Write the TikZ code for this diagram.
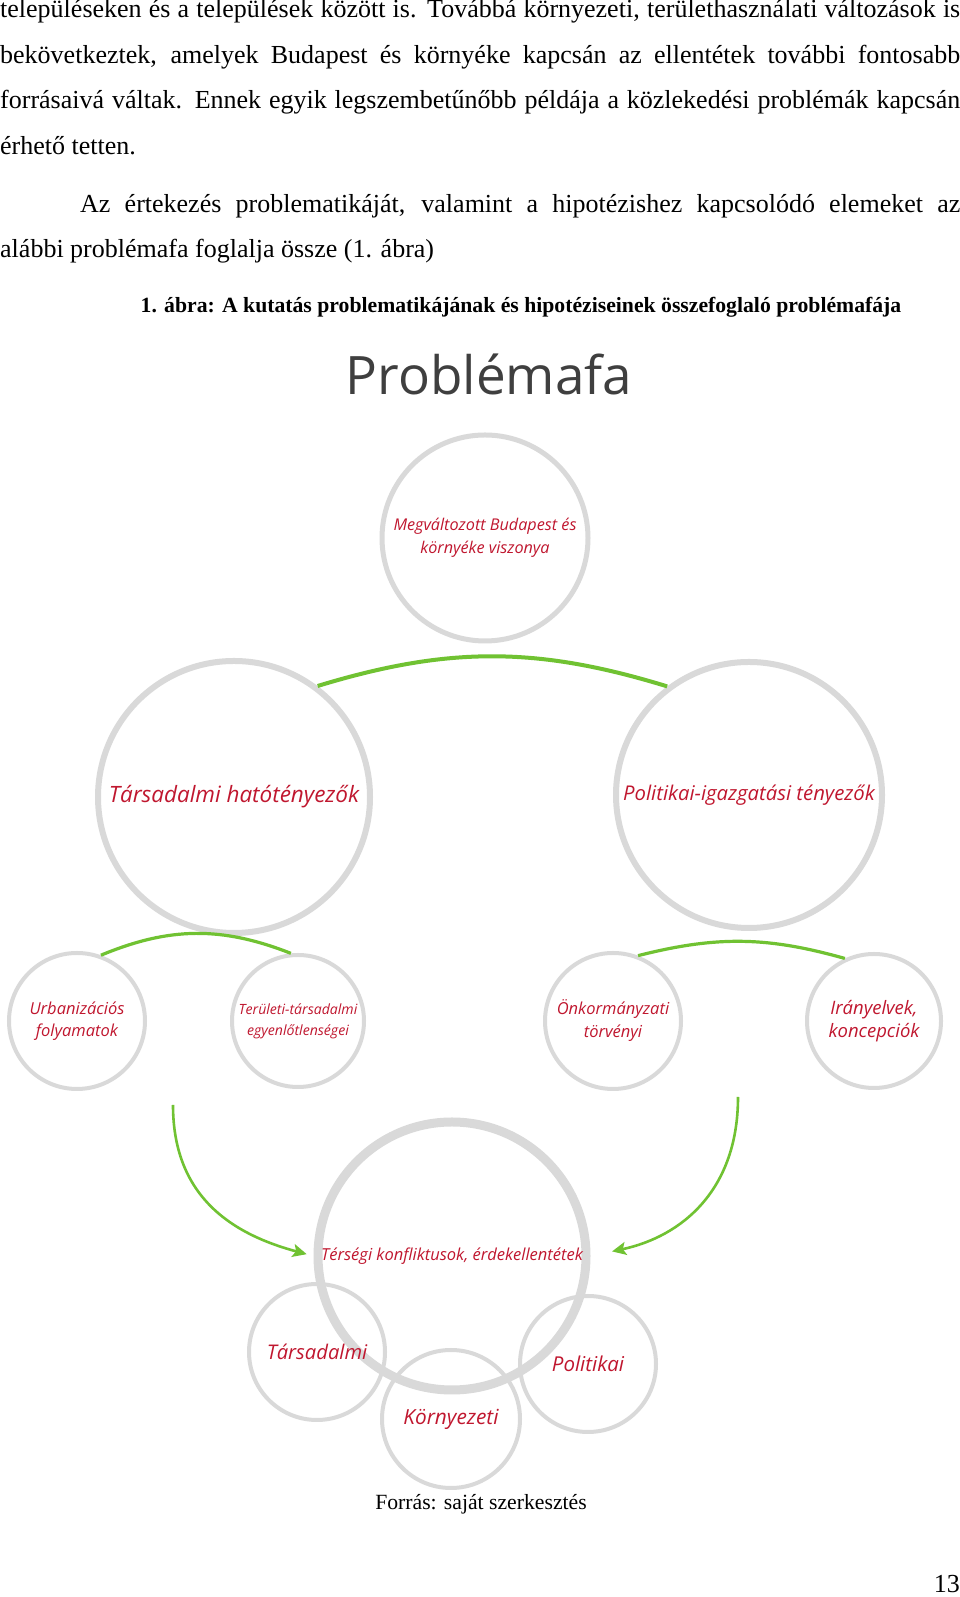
\documentclass[tikz,border=0pt]{standalone}
\usepackage{fontspec}
\setmainfont{Liberation Serif}
\newfontfamily\osans{Open Sans}
\usepackage{tikz}
\usetikzlibrary{arrows.meta,positioning}
\definecolor{ringc}{HTML}{D9D9D9}
\definecolor{leafc}{HTML}{70C232}
\definecolor{labc}{HTML}{C0172F}
\definecolor{headc}{HTML}{3F3F3F}
\tikzset{
  ar/.style={-{Stealth[length=14pt,width=13pt,inset=3pt]},line width=2.6pt,leafc},
  twig/.style={line width=4pt,leafc},
  ring/.style={circle,draw=ringc,inner sep=0pt,align=center,text=labc},
  bline/.style={anchor=base west,inner sep=0pt,font=\fontsize{26}{30}\selectfont}
}
\newcommand{\lab}[2]{\osans\itshape\fontsize{#1}{#2}\selectfont}
\newcommand{\jline}[2]{\makebox[#1pt][s]{#2}}

\begin{document}
\begin{tikzpicture}[x=1pt,y=1pt]
\fill[white] (0,0) rectangle (960,1597);
\useasboundingbox (0,0) rectangle (960,1597);
\node[bline] (l1) at (0,1579) {\jline{960}{településeken és a települések között is. Továbbá környezeti, területhasználati változások is}};
\node[bline] (l2) at (0,1533.5) {\jline{960}{bekövetkeztek, amelyek Budapest és környéke kapcsán az ellentétek további fontosabb}};
\node[bline] (l3) at (0,1488) {\jline{960}{forrásaivá váltak. Ennek egyik legszembetűnőbb példája a közlekedési problémák kapcsán}};
\node[bline] (l4) at (0,1442.5) {érhető tetten.};
\node[bline] (l5) at (80,1384.5) {\jline{880}{Az értekezés problematikáját, valamint a hipotézishez kapcsolódó elemeket az}};
\node[bline] (l6) at (0,1339.5) {alábbi problémafa foglalja össze (1. ábra)};
\node[anchor=base,inner sep=0pt,font=\bfseries\fontsize{21.7}{26}\selectfont] (cap) at (521,1284) {1. ábra: A kutatás problematikájának és hipotéziseinek összefoglaló problémafája};
\node[anchor=base,inner sep=0pt,text=headc,font=\osans\fontsize{53}{60}\selectfont] (title) at (489,1202) {Problémafa};

\node[ring,line width=5pt,minimum size=206pt,font={\lab{16.2}{23}}] (rel) at (485,1059) {Megváltozott Budapest és\\környéke viszonya};
\node[ring,line width=6pt,minimum size=272pt,font={\lab{22.5}{26}}] (soc) at (234,800) {Társadalmi hatótényezők};
\node[ring,line width=6pt,minimum size=266pt,font={\lab{20.3}{26}}] (pol) at (749,802) {Politikai-igazgatási tényezők};
\node[ring,line width=4pt,minimum size=136pt,font={\lab{16.5}{22}}] (urb) at (77,576) {Urbanizációs\\folyamatok};
\node[ring,line width=4pt,minimum size=132pt,font={\lab{14.1}{21}}] (ineq) at (298,576) {Területi-társadalmi\\egyenlőtlenségei};
\node[ring,line width=4pt,minimum size=136pt,font={\lab{16.5}{23}}] (gov) at (613,576) {Önkormányzati\\törvényi};
\node[ring,line width=4pt,minimum size=134pt,font={\lab{18.5}{23}}] (guide) at (874,576) {Irányelvek,\\koncepciók};
\node[ring,line width=9pt,minimum size=268pt,font={\lab{16.5}{20}}] (conf) at (452,341) {Térségi konfliktusok, érdekellentétek};
\node[ring,line width=4pt,minimum size=136pt,font={\lab{20.2}{24}}] (tsoc) at (317,245) {Társadalmi};
\node[ring,line width=4pt,minimum size=138pt,font={\lab{20.8}{24}}] (tenv) at (451,178) {Környezeti};
\node[ring,line width=4pt,minimum size=136pt,font={\lab{20.5}{24}}] (tpol) at (588,233) {Politikai};

\draw[twig] (soc.53) to[bend left=17] (pol.127);
\draw[twig,line width=3.2pt] (urb.70) to[bend left=22] (ineq.96);
\draw[twig,line width=3.2pt] (gov.69) to[bend left=15] (guide.115);
\coordinate (sl) at (173,492);
\coordinate (sr) at (738,500);
\draw[ar,shorten >=7pt] (sl) to[out=-90,in=165,looseness=1.1] (conf.west);
\draw[ar,shorten >=22pt] (sr) to[out=-90,in=12,looseness=1.1] (conf.east);

\node[anchor=base,inner sep=0pt,font=\fontsize{21.7}{26}\selectfont] (src) at (481,87) {Forrás: saját szerkesztés};
\node[anchor=base east,inner sep=0pt,font=\fontsize{26}{30}\selectfont] (pg) at (960,5) {13};
\end{tikzpicture}
\end{document}
